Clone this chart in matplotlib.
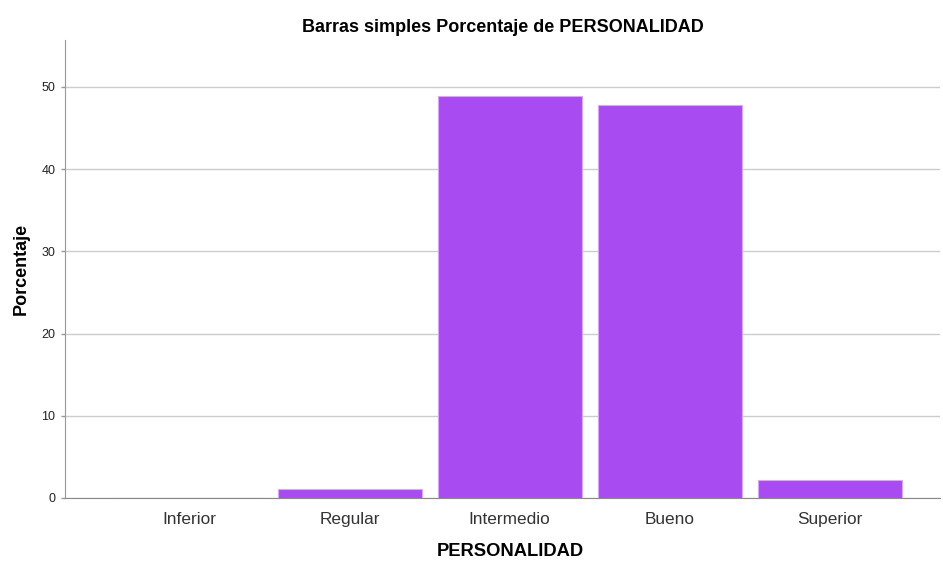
import matplotlib
matplotlib.use("Agg")
import matplotlib.pyplot as plt

# Data #
categories = ["Inferior", "Regular", "Intermedio", "Bueno", "Superior"]
percent = [0.0, 1.1, 48.9, 47.8, 2.2]
yticks = [0, 10, 20, 30, 40, 50]

plt.rcParams["font.family"] = ["Liberation Sans", "DejaVu Sans"]

fig = plt.figure(figsize=(9.43, 5.61), dpi=100)
ax = fig.add_axes([65/943, 63/561, 875/943, 458/561])

x = range(len(categories))
ax.bar(x, percent, width=0.9, color="#a84cf2", edgecolor="#d9a6fb", linewidth=0.8, zorder=3)

ax.set_xlim(-0.78, 4.69)
ax.set_ylim(0, 55.7)
ax.set_yticks(yticks)
ax.set_xticks(list(x))
ax.set_xticklabels(categories, fontsize=12.4, color="#333333")
ax.tick_params(axis="y", labelsize=9, length=3, width=1, color="#999999", pad=4, labelcolor="#222222")
ax.tick_params(axis="x", length=0, pad=10)
ax.grid(axis="y", color="#cccccc", linewidth=1, zorder=0)

for s in ["top", "right"]:
    ax.spines[s].set_visible(False)
ax.spines["left"].set_color("#999999")
ax.spines["bottom"].set_color("#888888")

ax.set_xlabel("PERSONALIDAD", fontsize=13.2, fontweight="bold")
ax.xaxis.set_label_coords((510 - 65) / 875, -(543 - 498) / 458)
ax.set_ylabel("Porcentaje", fontsize=13, fontweight="bold")
ax.yaxis.set_label_coords(-(65 - 30) / 875, 0.5)
ax.set_title("Barras simples Porcentaje de PERSONALIDAD", fontsize=13, fontweight="bold", pad=6)

fig.savefig("out.png", dpi=100)
